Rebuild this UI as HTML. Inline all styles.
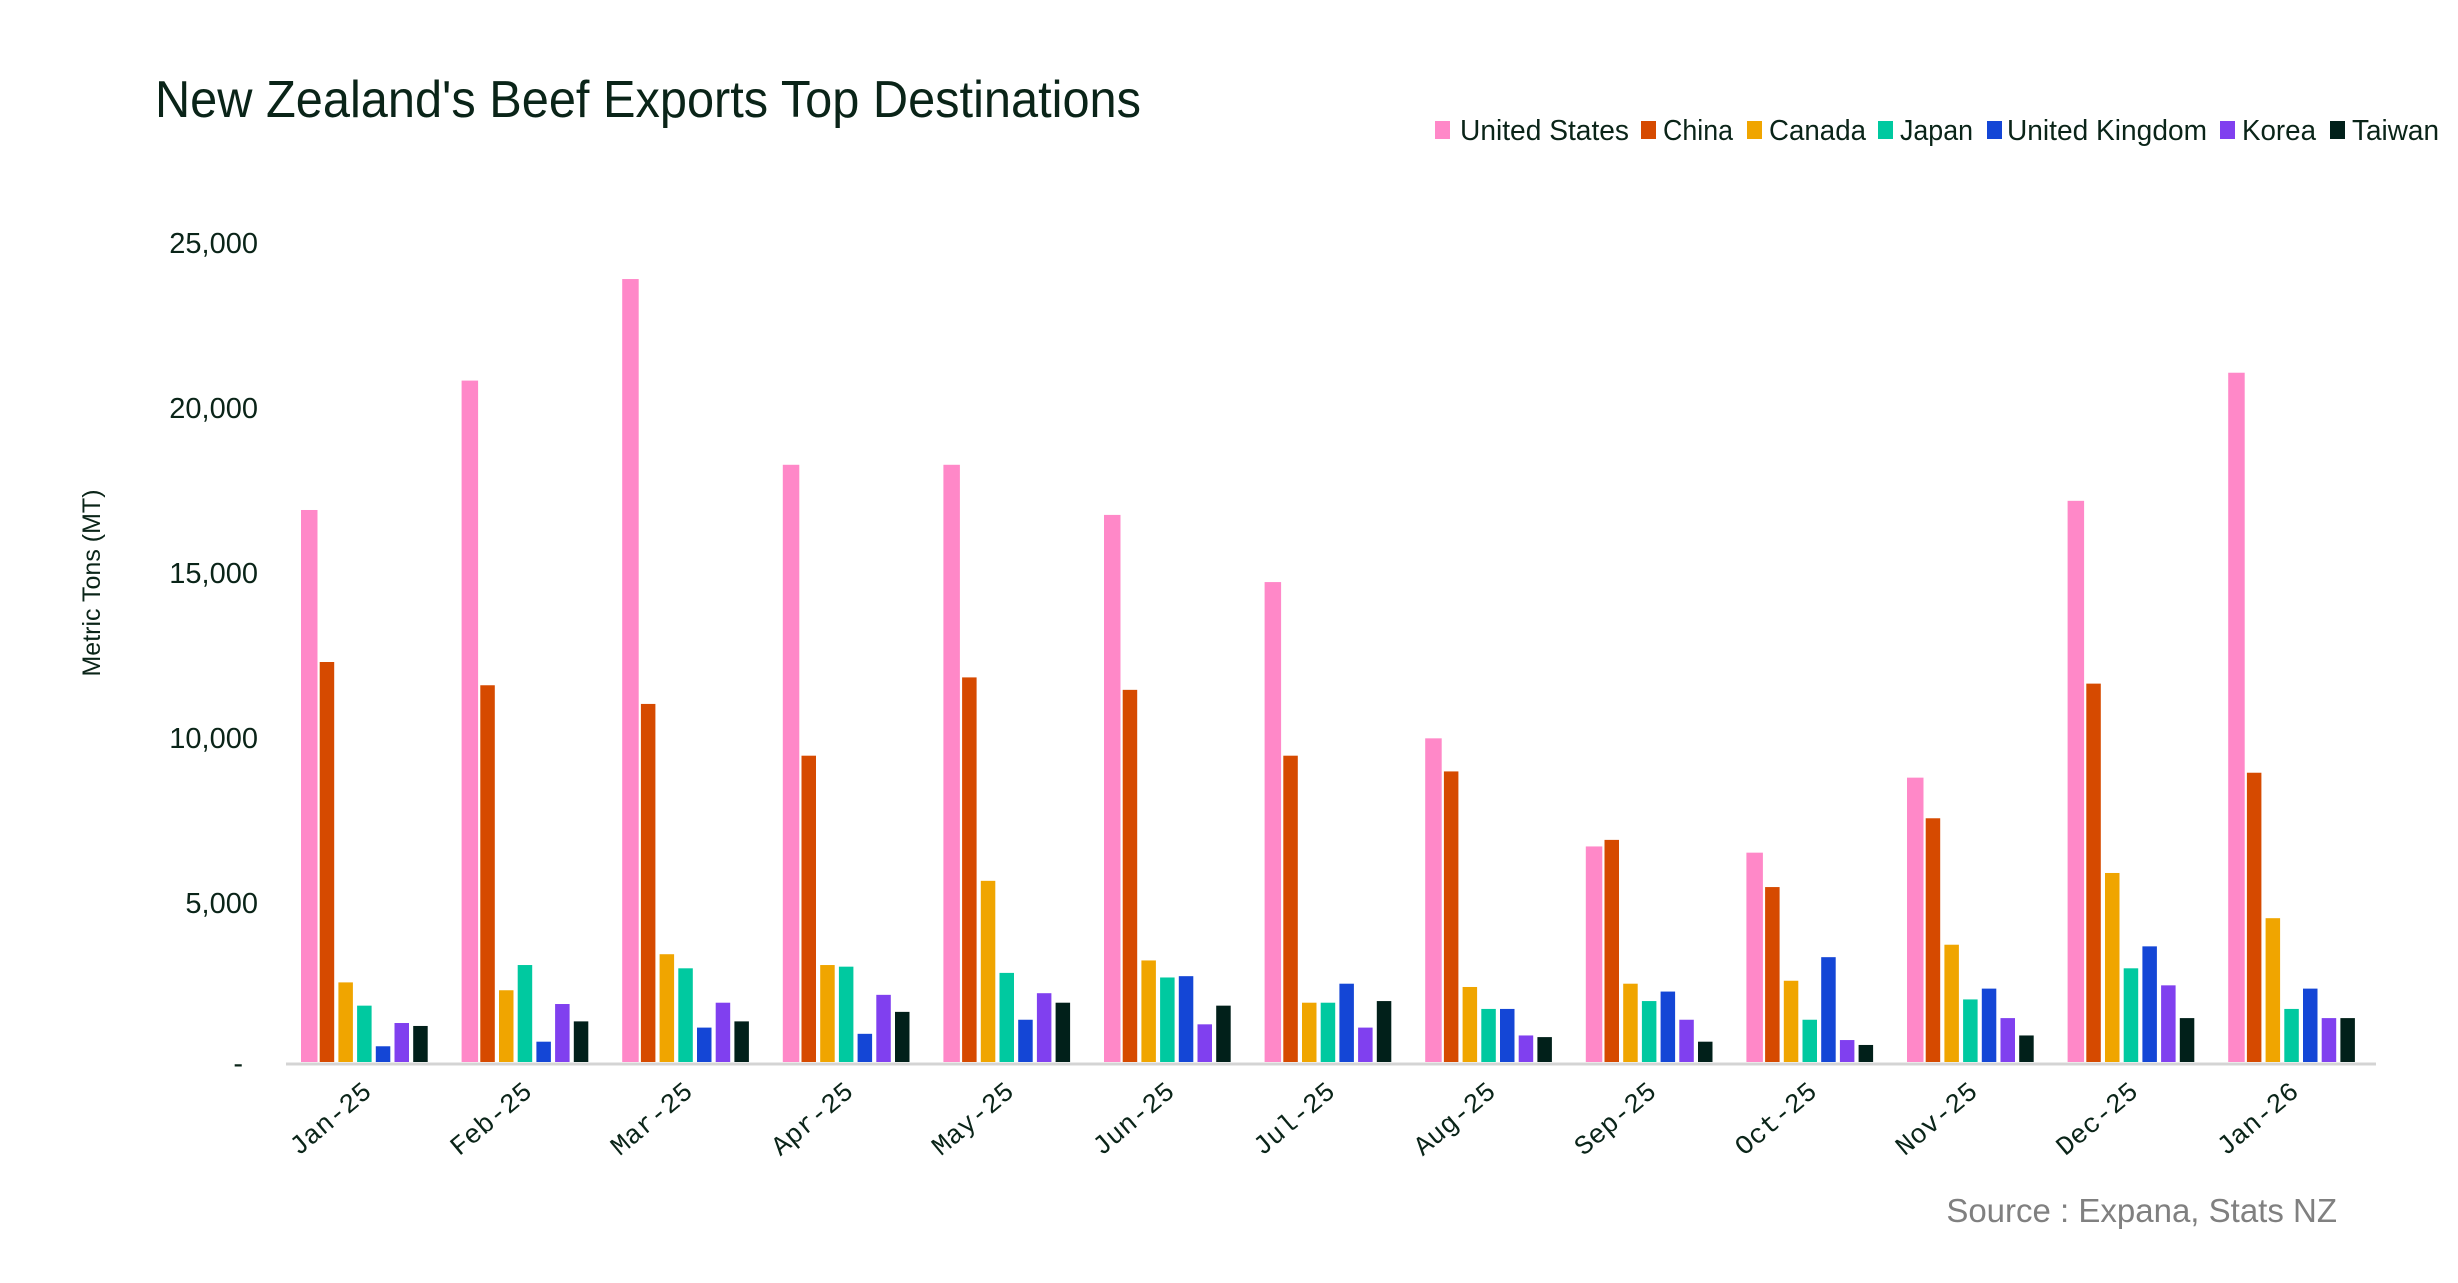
<!DOCTYPE html>
<html><head><meta charset="utf-8"><style>
html,body{margin:0;padding:0;background:#fff;}
svg{display:block;}
</style></head><body>
<svg width="2458" height="1283" viewBox="0 0 2458 1283" xmlns="http://www.w3.org/2000/svg" font-family="Liberation Sans, sans-serif">
<text x="155" y="117" font-size="52" fill="#0a2418" textLength="986" lengthAdjust="spacingAndGlyphs">New Zealand's Beef Exports Top Destinations</text>
<g font-size="29" fill="#0a2418">
<rect x="1435" y="121" width="15" height="18" fill="#ff88c8"/><text x="1460" y="140" textLength="169" lengthAdjust="spacingAndGlyphs">United States</text>
<rect x="1641" y="121" width="15" height="18" fill="#d64a00"/><text x="1663" y="140" textLength="70" lengthAdjust="spacingAndGlyphs">China</text>
<rect x="1747" y="121" width="15" height="18" fill="#f0a500"/><text x="1769" y="140" textLength="97" lengthAdjust="spacingAndGlyphs">Canada</text>
<rect x="1878" y="121" width="15" height="18" fill="#00c9a0"/><text x="1900" y="140" textLength="73" lengthAdjust="spacingAndGlyphs">Japan</text>
<rect x="1987" y="121" width="15" height="18" fill="#1446d6"/><text x="2007" y="140" textLength="200" lengthAdjust="spacingAndGlyphs">United Kingdom</text>
<rect x="2220" y="121" width="15" height="18" fill="#8040ef"/><text x="2242" y="140" textLength="74" lengthAdjust="spacingAndGlyphs">Korea</text>
<rect x="2330" y="121" width="15" height="18" fill="#01201a"/><text x="2352" y="140" textLength="87" lengthAdjust="spacingAndGlyphs">Taiwan</text>
</g>
<g font-size="29" fill="#0a2418" text-anchor="end">
<text x="258" y="253">25,000</text>
<text x="258" y="418">20,000</text>
<text x="258" y="583">15,000</text>
<text x="258" y="748">10,000</text>
<text x="258" y="913">5,000</text>
<text x="243" y="1073">-</text>
</g>
<text transform="translate(100,583) rotate(-90)" text-anchor="middle" font-size="25" fill="#0a2418">Metric Tons (MT)</text>
<line x1="286" y1="1064" x2="2376" y2="1064" stroke="#d4d4d4" stroke-width="3"/>
<g id="bars"></g>
<g id="labels" font-family="Liberation Mono, monospace" font-size="27" fill="#0a2418" text-anchor="end"></g>
<text x="2337" y="1222" font-size="33" fill="#808080" text-anchor="end">Source : Expana, Stats NZ</text>
<script>
var data=[[16850,12210,2430,1720,480,1190,1100],[20800,11500,2190,2960,620,1770,1240],[23900,10930,3290,2860,1050,1810,1240],[18230,9350,2960,2910,860,2050,1530],[18230,11740,5530,2720,1290,2100,1810],[16700,11360,3100,2580,2620,1150,1720],[14650,9350,1810,1810,2390,1050,1860],[9880,8870,2290,1620,1620,810,760],[6580,6780,2390,1860,2150,1290,620],[6390,5340,2480,1290,3200,670,520],[8680,7440,3580,1910,2240,1340,810],[17130,11550,5770,2860,3530,2340,1340],[21040,8830,4390,1620,2240,1340,1340]];
var cols=["#ff88c8","#d64a00","#f0a500","#00c9a0","#1446d6","#8040ef","#01201a"];
var labs=["Jan-25","Feb-25","Mar-25","Apr-25","May-25","Jun-25","Jul-25","Aug-25","Sep-25","Oct-25","Nov-25","Dec-25","Jan-26"];
var ns="http://www.w3.org/2000/svg",b=document.getElementById("bars"),l=document.getElementById("labels");
var base=1062,k=(1062-243)/25000;
data.forEach(function(g,i){
 var x0=301+i*160.6;
 g.forEach(function(v,j){
  var r=document.createElementNS(ns,"rect");var h=v*k;
  r.setAttribute("x",x0+j*18.7);r.setAttribute("y",base-h);r.setAttribute("width",j==0?16.5:14.5);r.setAttribute("height",h);r.setAttribute("fill",cols[j]);b.appendChild(r);
 });
 var t=document.createElementNS(ns,"text");var cx=x0+72,cy=1094;
 t.setAttribute("x",cx);t.setAttribute("y",cy);t.setAttribute("transform","rotate(-40 "+cx+" "+cy+")");t.textContent=labs[i];l.appendChild(t);
});
</script>
</svg>
</body></html>
